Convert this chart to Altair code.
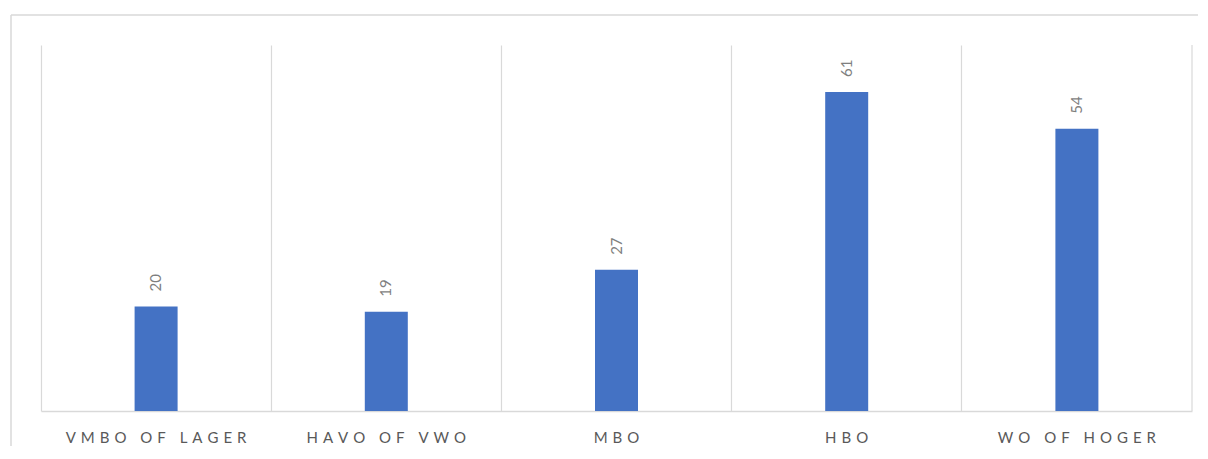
import altair as alt
import pandas as pd

categories = ["VMBO OF LAGER", "HAVO OF VWO", "MBO", "HBO", "WO OF HOGER"]
values = [20, 19, 27, 61, 54]

df = pd.DataFrame({"cat": categories, "val": values})
last = pd.DataFrame({"cat": [categories[-1]]})
frame = pd.DataFrame({"k": [0]})

W, H = 1151, 366
GRID = "#d9d9d9"
TXT = "#595959"
FONT = "Lato"

xenc = alt.X("cat:N", sort=categories,
             scale=alt.Scale(paddingInner=0, paddingOuter=0),
             axis=alt.Axis(title=None, labelAngle=0, ticks=False, grid=True,
                           bandPosition=0, gridColor=GRID, gridWidth=1.2,
                           domainColor=GRID, domainWidth=1.5,
                           labelColor=TXT, labelFontSize=15, labelFont=FONT,
                           labelPadding=19, labelLimit=400,
                           labelExpr="join(split(datum.label, ''), '\u2004')"))
yscale = alt.Scale(domain=[0, 70], nice=False)

bars = alt.Chart(df).mark_bar(size=43, color="#4472C4").encode(
    x=xenc,
    y=alt.Y("val:Q", scale=yscale, axis=None),
)

labels = alt.Chart(df).mark_text(angle=270, align="left", baseline="middle",
                                 dx=15, fontSize=15, font=FONT, color="#7f7f7f").encode(
    x=alt.X("cat:N", sort=categories),
    y=alt.Y("val:Q", scale=yscale),
    text="val:Q",
)

right_edge = alt.Chart(last).mark_rule(color=GRID, strokeWidth=1.2).encode(
    x=alt.X("cat:N", sort=categories, bandPosition=1),
    y=alt.value(0), y2=alt.value(H),
)

frame_top = alt.Chart(frame).mark_rule(color=GRID, strokeWidth=1.5).encode(
    x=alt.value(-30), x2=alt.value(1400), y=alt.value(-30)
)
frame_left = alt.Chart(frame).mark_rule(color=GRID, strokeWidth=1.5).encode(
    x=alt.value(-30), y=alt.value(-30), y2=alt.value(600)
)

chart = alt.layer(frame_top, frame_left, bars, labels, right_edge).properties(
    width=W, height=H,
    autosize=alt.AutoSizeParams(type="none"),
    padding={"left": 33, "top": 37, "right": 6, "bottom": 35},
    background="white",
).configure_view(stroke=None)

chart.save("out.html", embed_options={"renderer": "svg", "actions": False})
